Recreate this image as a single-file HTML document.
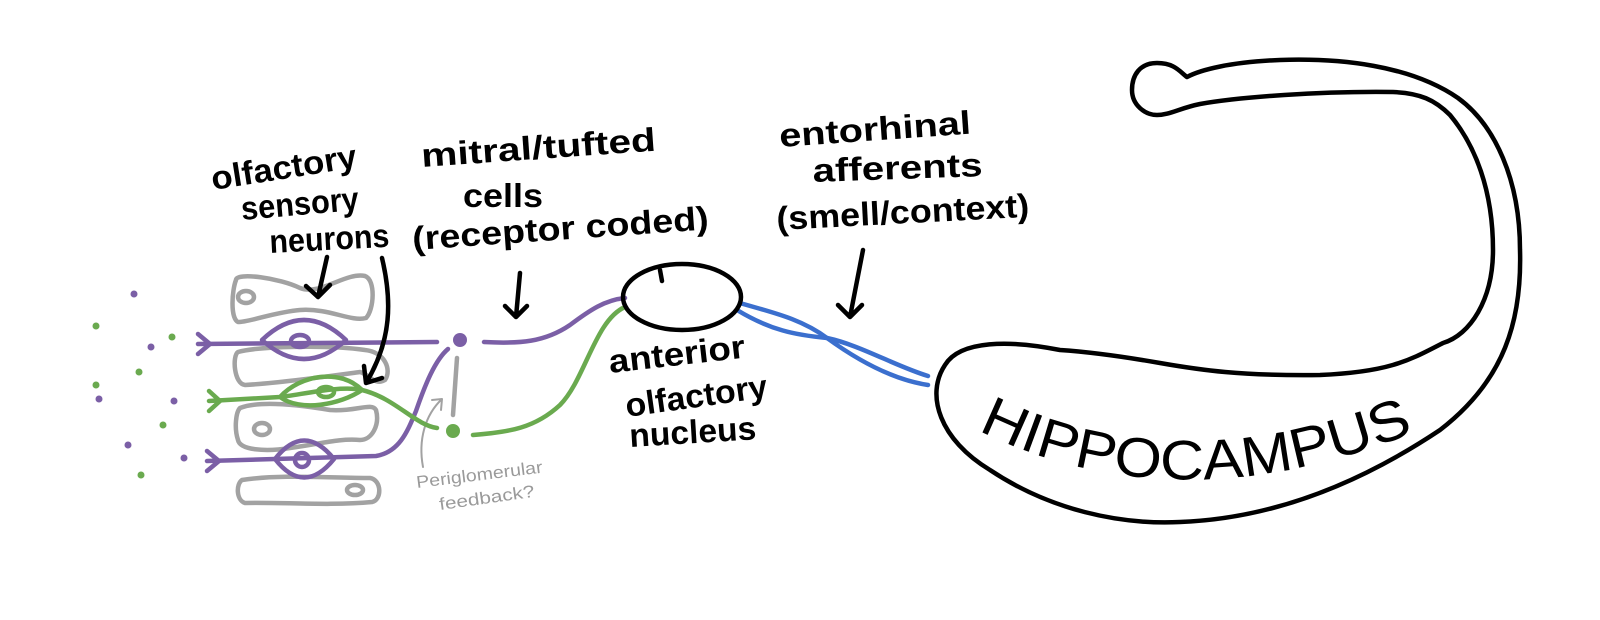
<!DOCTYPE html>
<html><head><meta charset="utf-8"><style>
html,body{margin:0;padding:0;background:#fff;}
svg{display:block;}
.h{font-family:"Liberation Sans",sans-serif;font-weight:bold;font-size:33px;fill:#000;}
</style></head><body>
<svg width="1600" height="620" viewBox="0 0 1600 620" xmlns="http://www.w3.org/2000/svg">
<rect width="1600" height="620" fill="#fff"/>
<g fill="none" stroke-linecap="round" stroke-linejoin="round">
<g stroke="#a2a2a2" stroke-width="4.5">
<path d="M236,280 C236,272 280,278 300,288 C320,296 345,272 365,276 C376,280 374,310 366,318 C350,322 330,308 300,310 C275,312 250,322 238,322 C230,318 232,290 236,280 Z"/>
<ellipse cx="246" cy="297" rx="8" ry="6"/>
<path d="M238,352 C260,346 330,345 365,350 C385,352 392,370 385,380 C375,386 370,375 360,372 C330,376 280,383 245,385 C234,384 232,356 238,352 Z"/>
<path d="M240,408 C260,400 300,405 330,410 C355,412 372,402 376,410 C380,425 372,440 360,440 C340,438 320,444 290,448 C265,452 240,450 238,440 C234,428 236,412 240,408 Z"/>
<ellipse cx="262" cy="429" rx="8" ry="6"/>
<path d="M242,480 C280,474 330,478 370,478 C382,480 382,500 372,502 C330,506 280,502 245,503 C236,500 236,484 242,480 Z"/>
<ellipse cx="355" cy="490" rx="8" ry="5"/>
<path d="M457,358 L453,415"/>
<path d="M423,467 C418,440 425,415 442,399 M432,400 L442,399 L441,410" stroke-width="2"/>
</g>
<g stroke="#7b5fa6" stroke-width="4.5">
<path d="M198,344 L437,342"/>
<path d="M198,334 L210,344 L198,354"/>
<path d="M262,340 Q304,300 346,340 Q304,378 262,340 Z"/>
<ellipse cx="300" cy="341" rx="9" ry="6"/>
<path d="M484,342 C520,344 545,342 570,325 C590,310 605,300 625,298"/>
<path d="M207,461 L376,456 C400,452 408,430 416,411 C425,385 435,360 448,349"/>
<path d="M207,451 L219,461 L207,471"/>
<path d="M275,459 Q304,422 334,459 Q304,496 275,459 Z"/>
<ellipse cx="302" cy="460" rx="7" ry="7"/>
</g>
<circle cx="460" cy="340" r="7" fill="#7b5fa6"/>
<g stroke="#6aaa4f" stroke-width="4.5">
<path d="M209,401 L280,397 C300,395 340,385 362,390 C395,398 415,425 437,428"/>
<path d="M209,391 L220,401 L209,411"/>
<path d="M280,397 C300,375 340,368 362,390 C340,405 300,412 280,397"/>
<ellipse cx="326" cy="392" rx="8" ry="5"/>
<path d="M473,435 C510,432 535,428 560,405 C585,380 595,320 625,307"/>
</g>
<circle cx="453" cy="431" r="7" fill="#6aaa4f"/>
<g stroke="none">
<circle cx="134" cy="294" r="3.5" fill="#7b5fa6"/>
<circle cx="96" cy="326" r="3.5" fill="#6aaa4f"/>
<circle cx="172" cy="337" r="3.5" fill="#6aaa4f"/>
<circle cx="151" cy="347" r="3.5" fill="#7b5fa6"/>
<circle cx="139" cy="372" r="3.5" fill="#6aaa4f"/>
<circle cx="96" cy="385" r="3.5" fill="#6aaa4f"/>
<circle cx="99" cy="399" r="3.5" fill="#7b5fa6"/>
<circle cx="174" cy="401" r="3.5" fill="#7b5fa6"/>
<circle cx="163" cy="425" r="3.5" fill="#6aaa4f"/>
<circle cx="128" cy="445" r="3.5" fill="#7b5fa6"/>
<circle cx="184" cy="458" r="3.5" fill="#7b5fa6"/>
<circle cx="141" cy="475" r="3.5" fill="#6aaa4f"/>
</g>
<g stroke="#3b6fce" stroke-width="4.5">
<path d="M740,303 C770,312 800,318 827,338 C860,362 895,380 928,385"/>
<path d="M737,310 C770,330 795,335 827,338 C860,345 895,366 928,376"/>
</g>
<g stroke="#000" stroke-width="4.5">
<ellipse cx="682" cy="297" rx="59" ry="33"/>
<path d="M660,270 L662,281"/>
<path d="M327,257 L318,297 M306,286 L318,297 L330,285"/>
<path d="M382,258 C392,300 392,340 366,383 M364,366 L366,383 L382,378"/>
<path d="M520,273 L516,317 M505,306 L516,317 L527,306"/>
<path d="M863,250 L850,317 M838,305 L850,317 L862,305"/>
<path d="M1060,350 C1010,340 960,340 945,365 C925,395 940,440 990,470 C1050,510 1120,525 1180,522 C1290,518 1380,470 1440,430 C1505,380 1522,320 1520,250 C1520,180 1495,125 1458,98 C1410,65 1340,58 1280,60 C1230,62 1200,70 1187,77 C1180,72 1175,63 1157,63 C1140,63 1132,75 1132,90 C1132,105 1145,115 1157,115 C1170,115 1180,108 1200,104 C1240,97 1320,91 1393,92 C1420,93 1435,100 1450,115 C1475,145 1493,190 1493,250 C1493,300 1470,335 1443,343 C1410,360 1390,372 1320,375 C1240,376 1200,370 1160,363 C1120,356 1090,352 1060,350 Z"/>
</g>
</g>
<text class="h" x="213" y="190" textLength="147" lengthAdjust="spacingAndGlyphs" transform="rotate(-9 213 190)">olfactory</text>
<text class="h" x="242" y="220" textLength="118" lengthAdjust="spacingAndGlyphs" transform="rotate(-5 242 220)">sensory</text>
<text class="h" x="270" y="253" textLength="120" lengthAdjust="spacingAndGlyphs" transform="rotate(-3 270 253)">neurons</text>
<text class="h" x="422" y="167" textLength="235" lengthAdjust="spacingAndGlyphs" transform="rotate(-4 422 167)">mitral/tufted</text>
<text class="h" x="463" y="207" textLength="80" lengthAdjust="spacingAndGlyphs">cells</text>
<text class="h" x="413" y="250" textLength="297" lengthAdjust="spacingAndGlyphs" transform="rotate(-4 413 250)">(receptor coded)</text>
<text class="h" x="780" y="147" textLength="192" lengthAdjust="spacingAndGlyphs" transform="rotate(-4 780 147)">entorhinal</text>
<text class="h" x="813" y="182" textLength="170" lengthAdjust="spacingAndGlyphs" transform="rotate(-2 813 182)">afferents</text>
<text class="h" x="777" y="230" textLength="253" lengthAdjust="spacingAndGlyphs" transform="rotate(-3 777 230)">(smell/context)</text>
<text class="h" x="610" y="373" textLength="137" lengthAdjust="spacingAndGlyphs" transform="rotate(-6.5 610 373)">anterior</text>
<text class="h" x="627" y="417" textLength="143" lengthAdjust="spacingAndGlyphs" transform="rotate(-8 627 417)">olfactory</text>
<text class="h" x="630" y="447" textLength="127" lengthAdjust="spacingAndGlyphs" transform="rotate(-3.5 630 447)">nucleus</text>
<text x="417" y="488" font-family="Liberation Sans, sans-serif" font-size="17" fill="#9a9a9a" textLength="127" lengthAdjust="spacingAndGlyphs" transform="rotate(-7 417 488)">Periglomerular</text>
<text x="440" y="510" font-family="Liberation Sans, sans-serif" font-size="17" fill="#9a9a9a" textLength="96" lengthAdjust="spacingAndGlyphs" transform="rotate(-8 440 510)">feedback?</text>
<defs><path id="hp" d="M978,430 Q1175,528 1415,432"/></defs>
<text font-family="Liberation Sans, sans-serif" font-size="56" fill="#000"><textPath href="#hp" textLength="450" lengthAdjust="spacingAndGlyphs">HIPPOCAMPUS</textPath></text>
</svg>
</body></html>
